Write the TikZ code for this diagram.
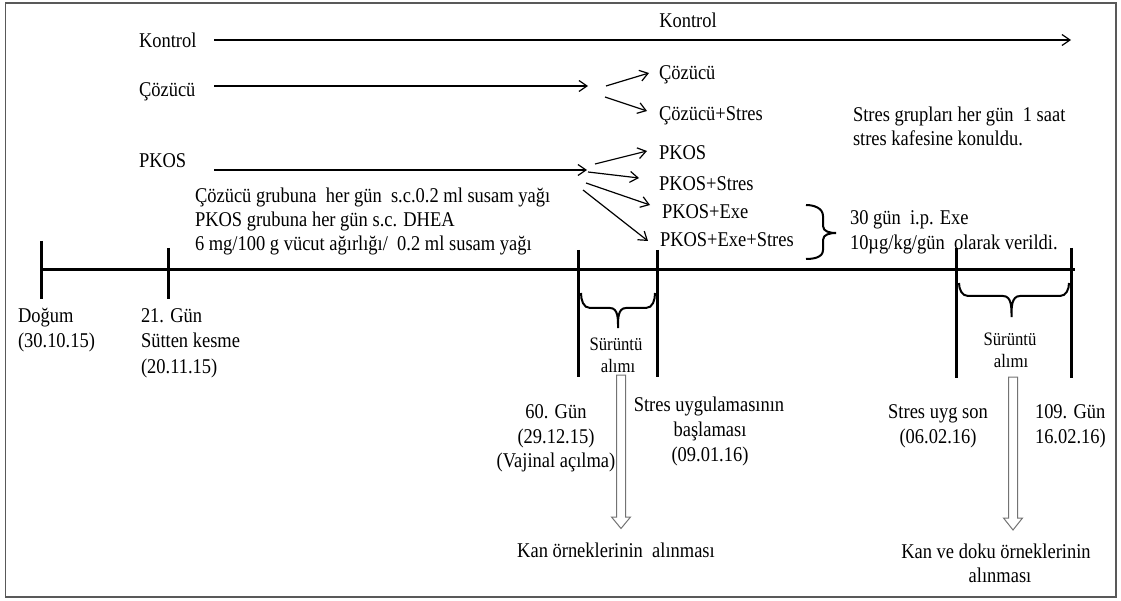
\documentclass[tikz,border=0pt]{standalone}
\usepackage{fontspec}
\setmainfont{Liberation Serif}[FakeStretch=0.88]
\usetikzlibrary{arrows.meta}
\begin{document}
\begin{tikzpicture}[x=1pt,y=-1pt,
  txt/.style={font=\fontsize{21}{25}\selectfont, inner sep=0pt, outer sep=0pt},
  lw/.style={txt, anchor=base west},
  ctr/.style={txt, anchor=base},
  small/.style={font=\fontsize{19}{22}\selectfont, inner sep=0pt, outer sep=0pt, anchor=base},
  arr/.style={line width=1.2pt, -{Straight Barb[length=8pt,width=11pt]}},
  timeline/.style={line width=3pt},
  tickline/.style={line width=3pt},
  brc/.style={line width=2pt},
  hollow/.style={draw=black!55, line width=1pt, fill=white, line join=miter},
  frame/.style={draw=black!65, line width=1.2pt}
]
\useasboundingbox (0,0) rectangle (1121,601);
\draw[frame] (5.5,3) rectangle (1116,597);

% group labels
\node[ctr] (ktop) at (688,28) {Kontrol};
\node[lw] (kL) at (139,48) {Kontrol};
\node[lw] (cL) at (139,97) {Çözücü};
\node[lw] (pL) at (139,168) {PKOS};

\coordinate (k0) at (214,40);  \coordinate (k1) at (1071,40);
\coordinate (c0) at (214,86);  \coordinate (c1) at (588,86);
\coordinate (p0) at (214,170); \coordinate (p1) at (587,170);
\draw[arr] (k0) -- (k1);
\draw[arr] (c0) -- (c1);
\draw[arr] (p0) -- (p1);

% subgroups
\node[lw] (cs1) at (659,80) {Çözücü};
\node[lw] (cs2) at (659,121) {Çözücü+Stres};
\node[lw] (ps1) at (659,160) {PKOS};
\node[lw] (ps2) at (659,191) {PKOS+Stres};
\node[lw] (ps3) at (662,219) {PKOS+Exe};
\node[lw] (ps4) at (660,247) {PKOS+Exe+Stres};

\coordinate (ca) at (606,86);  \coordinate (cat) at (649,73);
\coordinate (cb) at (605,97);  \coordinate (cbt) at (647,111);
\draw[arr] (ca) -- (cat);
\draw[arr] (cb) -- (cbt);

\coordinate (pa) at (595,164); \coordinate (pat) at (647,151);
\coordinate (pb) at (588,172); \coordinate (pbt) at (639,178);
\coordinate (pc) at (586,183); \coordinate (pct) at (650,205);
\coordinate (pd) at (583,190); \coordinate (pdt) at (648,241);
\draw[arr] (pa) -- (pat);
\draw[arr] (pb) -- (pbt);
\draw[arr] (pc) -- (pct);
\draw[arr] (pd) -- (pdt);

% notes
\node[lw] (n1) at (853,122) {Stres grupları her gün\ \ 1 saat};
\node[lw] (n2) at (853,146) {stres kafesine konuldu.};
\node[lw] (e1) at (850,225) {30 gün\ \ i.p. Exe};
\node[lw] (e2) at (850,250) {10µg/kg/gün\ \ olarak verildi.};
\draw[brc] (806,205) to[out=0,in=90] (823,216) -- (823,226) to[out=-90,in=180] (836,233)
           to[out=180,in=90] (823,240) -- (823,250) to[out=-90,in=0] (806,259);

\node[lw] (d1) at (195,203) {Çözücü grubuna\ \ her gün\ \ s.c.0.2 ml susam yağı};
\node[lw] (d2) at (195,227) {PKOS grubuna her gün s.c. DHEA};
\node[lw] (d3) at (195,251) {6 mg/100 g vücut ağırlığı/\ \ 0.2 ml susam yağı};

% timeline
\coordinate (t0) at (41,270); \coordinate (t1) at (1075,270);
\draw[timeline] (t0) -- (t1);
\draw[tickline] (41,241) -- (41,299);
\draw[tickline] (168,248) -- (168,299);
\draw[tickline] (578.5,250) -- (578.5,377);
\draw[tickline] (657,250) -- (657,377);
\draw[tickline] (956.5,248) -- (956.5,378);
\draw[tickline] (1071,248) -- (1071,378);

% braces
\draw[brc] (581,293) to[out=-90,in=180] (590,308) -- (610,308) to[out=0,in=90] (618,328)
           to[out=90,in=180] (626,308) -- (646,308) to[out=0,in=-90] (655,293);
\draw[brc] (959,283) to[out=-90,in=180] (968,296) -- (1003,296) to[out=0,in=90] (1011.5,317)
           to[out=90,in=180] (1020,296) -- (1060,296) to[out=0,in=-90] (1069,283);

\node[small] (s1a) at (616,350) {Sürüntü};
\node[small] (s1b) at (618,372) {alımı};
\node[small] (s2a) at (1010,345) {Sürüntü};
\node[small] (s2b) at (1011,367) {alımı};

% hollow arrows
\draw[hollow] (616.5,375) -- (625.5,375) -- (625.5,517) -- (630.5,517) -- (621,528.5)
              -- (611.5,517) -- (616.5,517) -- cycle;
\draw[hollow] (1008.5,377) -- (1017.5,377) -- (1017.5,518) -- (1022.5,518) -- (1013,530)
              -- (1003.5,518) -- (1008.5,518) -- cycle;

% bottom labels
\node[lw] (b1) at (18,323) {Doğum};
\node[lw] (b2) at (18,348) {(30.10.15)};
\node[lw] (w1) at (141,323) {21. Gün};
\node[lw] (w2) at (141,348) {Sütten kesme};
\node[lw] (w3) at (141,373) {(20.11.15)};
\node[ctr] (g1) at (556,418) {60. Gün};
\node[ctr] (g2) at (556,443) {(29.12.15)};
\node[ctr] (g3) at (556,467) {(Vajinal açılma)};
\node[ctr] (u1) at (709,411) {Stres uygulamasının};
\node[ctr] (u2) at (710,436) {başlaması};
\node[ctr] (u3) at (710,461) {(09.01.16)};
\node[ctr] (v1) at (938,418) {Stres uyg son};
\node[ctr] (v2) at (938,443) {(06.02.16)};
\node[lw] (z1) at (1035,418) {109. Gün};
\node[lw] (z2) at (1035,443) {16.02.16)};
\node[ctr] (k1t) at (616,557) {Kan örneklerinin\ \ alınması};
\node[ctr] (k2t) at (996,558) {Kan ve doku örneklerinin};
\node[ctr] (k3t) at (1000,582) {alınması};
\end{tikzpicture}
\end{document}
